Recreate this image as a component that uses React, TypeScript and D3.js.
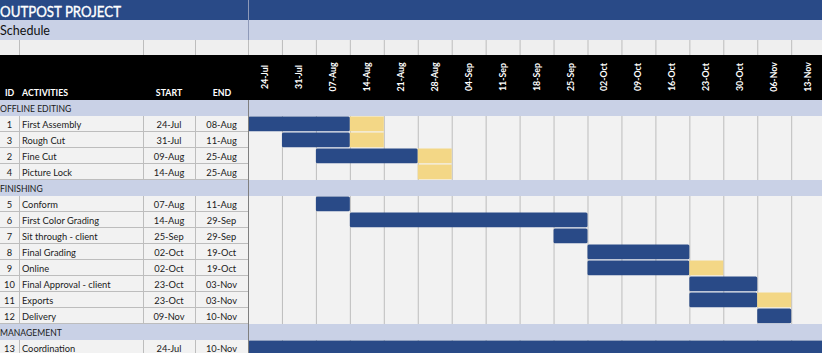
import React from 'react';
import * as d3 from 'd3';

const weeks = ['24-Jul','31-Jul','07-Aug','14-Aug','21-Aug','28-Aug','04-Sep','11-Sep','18-Sep','25-Sep','02-Oct','09-Oct','16-Oct','23-Oct','30-Oct','06-Nov','13-Nov'];
const sections = ['OFFLINE EDITING','FINISHING','MANAGEMENT'];
const taskSection = [0,0,0,0,1,1,1,1,1,1,1,1,2];
const ids = [1,3,2,4,5,6,7,8,9,10,11,12,13];
const activities = ['First Assembly','Rough Cut','Fine Cut','Picture Lock','Conform','First Color Grading','Sit through - client','Final Grading','Online','Final Approval - client','Exports','Delivery','Coordination'];
const starts = ['24-Jul','31-Jul','09-Aug','14-Aug','07-Aug','14-Aug','25-Sep','02-Oct','02-Oct','23-Oct','23-Oct','09-Nov','24-Jul'];
const ends = ['08-Aug','11-Aug','25-Aug','25-Aug','11-Aug','29-Sep','29-Sep','19-Oct','19-Oct','03-Nov','03-Nov','10-Nov','10-Nov'];
const blueFrom = ['24-Jul','31-Jul','07-Aug',null,'07-Aug','14-Aug','25-Sep','02-Oct','02-Oct','23-Oct','23-Oct','06-Nov','24-Jul'];
const blueTo = ['07-Aug','07-Aug','21-Aug',null,'07-Aug','25-Sep','25-Sep','16-Oct','16-Oct','30-Oct','30-Oct','06-Nov','13-Nov'];
const yellowAt = ['14-Aug','14-Aug','28-Aug','28-Aug',null,null,null,null,'23-Oct',null,'06-Nov',null,null];

const W = 822, H = 353;
const BLUE = '#294a87';
const LAV = '#c9d1e6';
const YEL = '#f3d786';
const BG = '#f2f2f2';
const GRID = '#bdbdbd';
const FONT = 'Lato, "Open Sans", sans-serif';

type Row = { kind: 'section'; key: string; label: string } | { kind: 'task'; key: string; i: number };

const rows: Row[] = [];
sections.forEach((s, si) => {
  rows.push({ kind: 'section', key: 's' + si, label: s });
  taskSection.forEach((ts, i) => { if (ts === si) rows.push({ kind: 'task', key: 't' + i, i }); });
});

const colX = [0, 19, 143, 195, 248];
const TABLE_R = 248;
const COL_W = 33.95;

export default function App() {
  const x = d3.scaleBand<string>().domain(weeks).range([TABLE_R, TABLE_R + COL_W * weeks.length]).paddingInner(0).paddingOuter(0);
  const y = d3.scaleBand<string>().domain(rows.map(r => r.key)).range([100, 100 + 16 * rows.length]);
  const bw = x.bandwidth();
  const rh = y.bandwidth();
  const boundaries = weeks.map(w => x(w)!).slice(1);

  return (
    <svg width={W} height={H} style={{ position: 'absolute', left: 0, top: 0, display: 'block' }} fontFamily={FONT}>
      {/* title */}
      <rect x={0} y={0} width={W} height={20} fill={BLUE} />
      <text x={0} y={16.5} fill="#fff" fontSize={15} stroke="#fff" strokeWidth={0.35} textLength={121} lengthAdjust="spacingAndGlyphs">OUTPOST PROJECT</text>
      <rect x={0} y={20} width={W} height={20} fill={LAV} />
      <text x={0} y={35} fill="#111" fontSize={13} textLength={50} lengthAdjust="spacingAndGlyphs">Schedule</text>
      <line x1={TABLE_R + 0.5} x2={TABLE_R + 0.5} y1={0} y2={40} stroke="#8d99b8" strokeWidth={1} />

      {/* empty row */}
      <rect x={0} y={40} width={W} height={15} fill="#efefef" />
      {colX.slice(1).map(cx => (
        <line key={'e' + cx} x1={cx + 0.5} x2={cx + 0.5} y1={40} y2={55} stroke={GRID} />
      ))}
      {boundaries.map((bx, k) => (
        <line key={'eb' + k} x1={bx + 0.5} x2={bx + 0.5} y1={40} y2={55} stroke={GRID} />
      ))}

      {/* header */}
      <rect x={0} y={55} width={W} height={45} fill="#000" />
      <g fill="#fff" fontSize={8.8} fontWeight={700}>
        <text x={5} y={96}>ID</text>
        <text x={22} y={96}>ACTIVITIES</text>
        <text x={169} y={96} textAnchor="middle">START</text>
        <text x={222} y={96} textAnchor="middle">END</text>
        {weeks.map(w => (
          <text key={w} transform={`translate(${x(w)! + bw / 2 + 3},77) rotate(-90)`} textAnchor="middle">{w}</text>
        ))}
      </g>

      {/* body background */}
      <rect x={0} y={100} width={W} height={H - 100} fill={BG} />
      {/* chart gridlines */}
      {boundaries.map((bx, k) => (
        <line key={'g' + k} x1={bx + 0.5} x2={bx + 0.5} y1={100} y2={H} stroke={GRID} />
      ))}

      {rows.map(r => {
        const top = y(r.key)!;
        if (r.kind === 'section') {
          return (
            <g key={r.key}>
              <rect x={0} y={top} width={W} height={rh} fill={LAV} />
              <text x={0} y={top + 11.5} fontSize={8.6} fill="#1a1a1a">{r.label}</text>
            </g>
          );
        }
        const i = r.i;
        return (
          <g key={r.key}>
            <line x1={0} x2={TABLE_R} y1={top + rh - 0.5} y2={top + rh - 0.5} stroke={GRID} />
            {colX.slice(1, 4).map(cx => (
              <line key={cx} x1={cx + 0.5} x2={cx + 0.5} y1={top} y2={top + rh} stroke={GRID} />
            ))}
            <g fontSize={9.3} fill="#1a1a1a">
              <text x={9.5} y={top + 11.5} textAnchor="middle">{ids[i]}</text>
              <text x={22} y={top + 11.5}>{activities[i]}</text>
              <text x={169} y={top + 11.5} textAnchor="middle">{starts[i]}</text>
              <text x={221.5} y={top + 11.5} textAnchor="middle">{ends[i]}</text>
            </g>
            {blueFrom[i] && blueTo[i] && (
              <rect x={x(blueFrom[i]!)!} y={top + 0.5} width={x(blueTo[i]!)! + bw - x(blueFrom[i]!)!} height={rh - 1.2} rx={1.5} fill={BLUE} />
            )}
            {yellowAt[i] && (
              <rect x={x(yellowAt[i]!)!} y={top + 0.5} width={bw} height={rh - 1.2} fill={YEL} />
            )}
          </g>
        );
      })}

      <line x1={TABLE_R + 0.5} x2={TABLE_R + 0.5} y1={100} y2={H} stroke="#7f7f7f" />
    </svg>
  );
}
